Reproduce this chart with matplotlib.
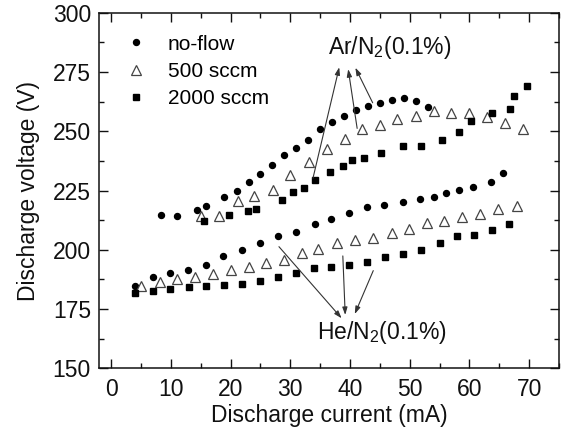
import matplotlib
matplotlib.use("Agg")
import matplotlib.pyplot as plt
from matplotlib.ticker import MultipleLocator

plt.rcParams['font.family'] = ['Liberation Sans', 'DejaVu Sans']
plt.rcParams['mathtext.fontset'] = 'custom'
plt.rcParams['mathtext.rm'] = 'Liberation Sans'
plt.rcParams['mathtext.default'] = 'regular'

# Ar/N2 (0.1%) upper group
ar_noflow_x = [8.4, 11.1, 14.3, 15.9, 18.9, 21.0, 23.0, 24.9, 26.9, 29.0, 31.0, 33.0, 34.9,
               37.0, 39.0, 41.0, 43.0, 45.0, 47.1, 49.1, 51.1, 53.0]
ar_noflow_y = [214.6, 214.4, 216.7, 218.6, 222.4, 224.7, 228.6, 232.1, 235.6, 240.1, 243.1, 246.3, 250.8,
               254.0, 256.4, 259.0, 260.6, 262.0, 263.1, 264.1, 262.6, 260.2]
ar_500_x = [15.0, 18.1, 21.2, 23.9, 27.1, 30.0, 33.1, 36.1, 39.1, 42.0, 45.0, 47.9, 51.1,
            54.0, 56.9, 60.0, 62.9, 66.0, 69.0]
ar_500_y = [214.3, 214.3, 220.6, 222.8, 225.1, 231.7, 237.0, 242.4, 246.6, 250.8, 252.8, 255.0, 256.6,
            258.7, 257.6, 257.6, 256.0, 253.4, 251.0]
ar_2000_x = [15.6, 19.7, 22.9, 24.2, 28.6, 30.5, 32.3, 34.2, 36.6, 38.8, 40.4, 42.4, 45.2, 48.9,
             51.9, 55.4, 58.2, 60.3, 63.8, 66.8, 67.5, 69.6]
ar_2000_y = [212.1, 214.5, 216.2, 217.3, 221.1, 224.3, 226.1, 229.6, 232.6, 235.3, 237.9, 238.6, 240.7, 243.8,
             243.8, 246.2, 249.7, 254.5, 257.8, 259.5, 264.9, 269.1]

# He/N2 (0.1%) lower group
he_noflow_x = [4.0, 7.0, 9.8, 12.9, 15.9, 18.8, 21.9, 24.9, 28.0, 30.9, 34.1, 36.9, 39.9, 42.8,
               45.7, 48.9, 51.8, 54.0, 56.0, 58.2, 60.6, 63.7, 65.7]
he_noflow_y = [184.7, 188.5, 190.2, 191.6, 193.7, 197.4, 200.0, 203.0, 205.7, 207.6, 210.8, 213.1, 215.6, 218.0,
               218.9, 220.3, 221.4, 222.4, 223.8, 225.1, 226.6, 228.5, 232.5]
he_500_x = [5.0, 8.1, 11.0, 14.0, 17.0, 20.0, 23.0, 25.9, 28.9, 31.9, 34.7, 37.9, 40.9, 43.9,
            47.0, 49.9, 52.9, 55.8, 58.8, 61.8, 64.8, 67.9]
he_500_y = [184.9, 186.4, 187.6, 188.7, 189.8, 191.5, 192.7, 194.6, 195.7, 198.7, 200.2, 202.9, 204.1, 205.1,
            207.0, 208.6, 211.2, 212.1, 214.0, 215.2, 217.1, 218.5]
he_2000_x = [4.0, 7.0, 9.9, 13.0, 15.9, 18.9, 21.9, 24.9, 28.0, 30.9, 33.9, 36.9, 39.8, 42.8,
             45.9, 48.9, 51.9, 55.0, 57.9, 60.8, 63.8, 66.7]
he_2000_y = [181.7, 182.8, 183.6, 184.2, 184.7, 185.2, 185.7, 186.8, 188.4, 190.2, 192.2, 192.6, 193.6, 194.8,
             196.9, 198.2, 199.8, 202.7, 205.7, 206.4, 208.5, 210.9]

legend_labels = ['no-flow', '500 sccm', '2000 sccm']

# annotation geometry (data coords): (tail, head)
ar_label = 'Ar/N$_2$(0.1%)'
ar_arrows = [((33.8, 230.2), (38.2, 277.0)),
             ((41.2, 251.2), (39.7, 276.2)),
             ((43.8, 262.0), (40.9, 276.8))]
he_label = 'He/N$_2$(0.1%)'
he_arrows = [((28.1, 201.3), (38.6, 171.1)),
             ((38.8, 197.4), (39.2, 172.5)),
             ((43.9, 191.2), (40.8, 172.9))]

fig = plt.figure(figsize=(5.64, 4.34), dpi=100)
ax = fig.add_axes([0.176, 0.1514, 0.815, 0.8193])

circ = dict(marker='o', linestyle='none', color='black', markersize=4.3)
tri = dict(marker='^', linestyle='none', markerfacecolor='white', markeredgecolor='#444444',
           markeredgewidth=0.9, markersize=6.5)
sq = dict(marker='s', linestyle='none', color='black', markersize=4.6)

h1, = ax.plot(ar_noflow_x, ar_noflow_y, label=legend_labels[0], **circ)
h2, = ax.plot(ar_500_x, ar_500_y, label=legend_labels[1], **tri)
h3, = ax.plot(ar_2000_x, ar_2000_y, label=legend_labels[2], **sq)
ax.plot(he_noflow_x, he_noflow_y, **circ)
ax.plot(he_500_x, he_500_y, **tri)
ax.plot(he_2000_x, he_2000_y, **sq)

arrowprops = dict(arrowstyle='-|>,head_length=0.45,head_width=0.15', color='#333333',
                  lw=0.8, shrinkA=0, shrinkB=0)
for tail, head in ar_arrows:
    ax.annotate('', xy=head, xytext=tail, arrowprops=arrowprops)
for tail, head in he_arrows:
    ax.annotate('', xy=head, xytext=tail, arrowprops=arrowprops)

ax.text(46.6, 285.3, ar_label, ha='center', va='center', fontsize=16.5, color='#111111')
ax.text(45.4, 165.0, he_label, ha='center', va='center', fontsize=16.5, color='#111111')

ax.set_xlim(-2, 75)
ax.set_ylim(150, 300)
ax.xaxis.set_major_locator(MultipleLocator(10))
ax.xaxis.set_minor_locator(MultipleLocator(5))
ax.yaxis.set_major_locator(MultipleLocator(25))
ax.yaxis.set_minor_locator(MultipleLocator(12.5))
ax.tick_params(which='both', direction='in', top=True, right=True, labelsize=16.5, width=1.0,
               colors='#111111')
ax.tick_params(which='major', length=6.5)
ax.tick_params(axis='x', which='major', pad=7)
ax.tick_params(axis='y', which='major', pad=6)
ax.tick_params(which='minor', length=3.5)
for s in ax.spines.values():
    s.set_linewidth(1.1)
    s.set_color('#111111')

ax.set_xlabel('Discharge current (mA)', fontsize=16.5, labelpad=2, color='#111111')
ax.set_ylabel('Discharge voltage (V)', fontsize=16.5, labelpad=9, color='#111111')

leg = ax.legend(handles=[h1, h2, h3], loc='upper left', bbox_to_anchor=(0.04, 0.962),
                frameon=False, fontsize=15, handlelength=1.0, handletextpad=1.0,
                labelspacing=0.4, borderaxespad=0.0, numpoints=1)

fig.savefig('out.png', dpi=100)
